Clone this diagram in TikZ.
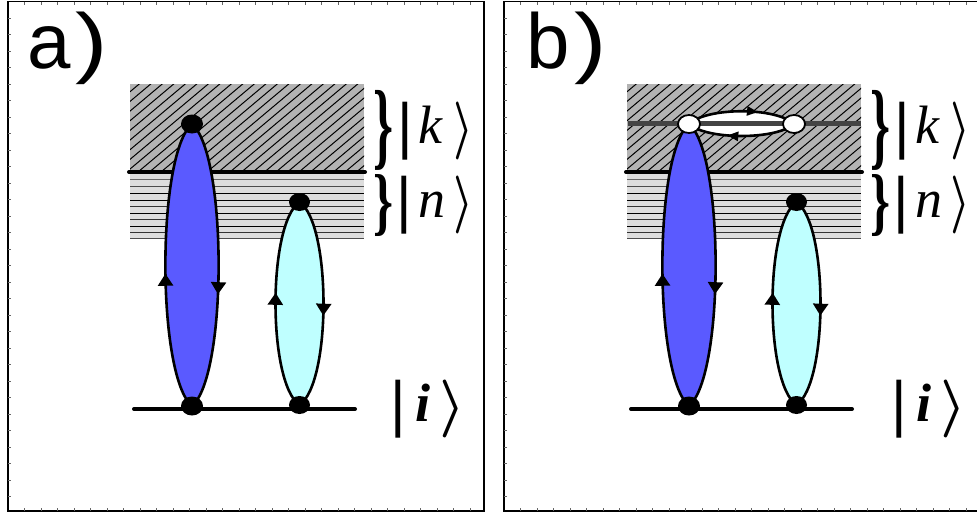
\documentclass[tikz,border=0pt]{standalone}
\usepackage{amsmath}
\usepackage{fontspec}
\setmainfont{Liberation Sans}
\newfontfamily\ketfont{Liberation Serif}
\newfontfamily\ketsym{DejaVu Sans}
\usepackage{tikz}
\usetikzlibrary{arrows.meta,decorations.markings,shapes.geometric}
\pgfdeclarelayer{top}
\pgfsetlayers{main,top}
\definecolor{lobeblue}{HTML}{5A5AFF}
\definecolor{lobecyan}{HTML}{BFFFFF}
\definecolor{hatchgray}{HTML}{B3B3B3}
\definecolor{bandgray}{HTML}{DDDDDD}
\definecolor{hotgray}{HTML}{444444}
\newcommand{\ketof}[4]{%
  \raisebox{-3pt}{\rlap{\ketsym\fontsize{58}{60}\selectfont |}}\hspace{#2}%
  \rlap{\ketfont\itshape\fontsize{54}{60}\selectfont #1}\hspace{#3}%
  \raisebox{-2.5pt}{\resizebox*{#4}{58pt}{\boldmath$\rangle$}}}

\begin{document}
\begin{tikzpicture}[
  x=1pt, y=-1pt,
  frame/.style={draw, line width=1.8pt},
  tick/.style={line width=0.6pt, draw=black!60},
  level/.style={line width=4pt, line cap=round},
  hotline/.style={line width=5pt, draw=hotgray},
  dot/.style={ellipse, fill=black, inner sep=0pt, minimum width=22pt, minimum height=19pt},
  smalldot/.style={dot, minimum width=21pt, minimum height=18pt},
  hole/.style={dot, draw=black, fill=white, line width=1.8pt, minimum width=22pt, minimum height=18pt},
  side/.style={line width=2.6pt},
  tipat/.style={postaction={decorate}, decoration={markings,
    mark=at position #1 with {\arrow{Triangle[length=12pt, width=15pt]}}}},
  smalltipat/.style={postaction={decorate}, decoration={markings,
    mark=at position #1 with {\arrow{Triangle[length=11pt, width=9pt]}}}},
  curly/.style={inner sep=0pt},
  ket/.style={anchor=base west, inner sep=0pt},
  panel/.style={font=\fontsize{78}{80}\selectfont, anchor=base west, inner sep=0pt}
]
  \useasboundingbox (0,0) rectangle (977,514);
  \foreach \pn/\px/\pl/\topstyle in {a/0/8/dot, b/497/504/hole} {
    \begin{scope}[xshift=\px pt]
      % bands
      \fill[hatchgray] (130,84) rectangle (364,172);
      \begin{scope}
        \clip (130,84) rectangle (364,172);
        \foreach \hx in {0,11.5,...,360}
          \draw[line width=1pt] (\hx,172) -- (\hx+119,72);
      \end{scope}
      \fill[bandgray] (130,172) rectangle (364,238);
      \foreach \hy/\hc in {179/black!60, 186/black!70, 193/black, 200/black, 206/black!80,
                           213/black, 219/black!80, 226/black, 232/black!80, 238/black!70}
        \draw[line width=0.9pt, draw=\hc] (130,\hy) -- (364,\hy);

      % levels
      \coordinate (\pn-kl) at (129,172);
      \coordinate (\pn-kr) at (365,172);
      \coordinate (\pn-il) at (134,409);
      \coordinate (\pn-ir) at (355,409);
      \draw[level] (\pn-kl) -- (\pn-kr);
      \draw[level] (\pn-il) -- (\pn-ir);

      % lobes
      \begin{pgfonlayer}{top}
        \node[\topstyle] (\pn-btop) at (192,124) {};
        \node[dot] (\pn-bbot) at (192,406) {};
        \node[smalldot] (\pn-ctop) at (299.5,202) {};
        \node[smalldot] (\pn-cbot) at (299.5,405) {};
      \end{pgfonlayer}
      \fill[lobeblue] (\pn-bbot.center) .. controls +(-35.5,-30) and +(-35.5,30) .. (\pn-btop.center)
        .. controls +(35.5,30) and +(35.5,-30) .. (\pn-bbot.center);
      \fill[lobecyan] (\pn-cbot.center) .. controls +(-32,-22) and +(-32,22) .. (\pn-ctop.center)
        .. controls +(32,22) and +(32,-22) .. (\pn-cbot.center);
      \draw[side, tipat=0.47] (\pn-bbot.center) .. controls +(-35.5,-30) and +(-35.5,30) .. (\pn-btop.center);
      \draw[side, tipat=0.6] (\pn-btop.center) .. controls +(35.5,30) and +(35.5,-30) .. (\pn-bbot.center);
      \draw[side, tipat=0.55] (\pn-cbot.center) .. controls +(-32,-22) and +(-32,22) .. (\pn-ctop.center);
      \draw[side, tipat=0.557] (\pn-ctop.center) .. controls +(32,22) and +(32,-22) .. (\pn-cbot.center);

      % labels
      \node[curly] (\pn-bracek) at (383,130) {\resizebox*{20pt}{80pt}{\ketfont\bfseries\}}};
      \node[curly] (\pn-bracen) at (383,206) {\resizebox*{20pt}{62pt}{\ketfont\bfseries\}}};
      \node[ket] (\pn-ketk) at (395,143) {\ketof{k}{23pt}{35pt}{20pt}};
      \node[ket] (\pn-ketn) at (394,217) {\ketof{n}{24pt}{35pt}{20pt}};
    \end{scope}
    \draw[frame] (\pl,1.5) rectangle (\pl+476,511);
    \foreach \tk in {1,...,30}
      \draw[tick] (\pl,\tk*16.5+1.5) -- +(3,0);
    \foreach \tk in {1,...,28} {
      \draw[tick] (\pl+\tk*16.5,1.5) -- +(0,3);
      \draw[tick] (\pl+\tk*16.5,511) -- +(0,-3);
    }
  }
  \node[panel] (a-lab) at (27,68) {a\kern5pt\scalebox{1.25}[1]{)}};
  \node[panel] (b-lab) at (526,68) {b\kern5pt\scalebox{1.25}[1]{)}};
  \node[ket] (a-keti) at (388,421) {\ketof{\bfseries i}{27pt}{24pt}{26pt}};
  \node[ket] (b-keti) at (889,421) {\ketof{\bfseries i}{27pt}{24pt}{26pt}};

  % virtual loop in panel b
  \begin{pgfonlayer}{top}
    \node[hole] (b-hr) at (794,124) {};
  \end{pgfonlayer}
  \coordinate (b-hl) at (628,123);
  \coordinate (b-hm) at (861,123);
  \fill[white] (b-btop.center) .. controls +(18,-17) and +(-18,-17) .. (b-hr.center)
    .. controls +(-18,16) and +(18,16) .. (b-btop.center);
  \draw[hotline] (b-hl) -- (b-hm);
  \draw[side, smalltipat=0.65] (b-btop.center) .. controls +(18,-17) and +(-18,-17) .. (b-hr.center);
  \draw[side, smalltipat=0.63] (b-hr.center) .. controls +(-18,16) and +(18,16) .. (b-btop.center);
\end{tikzpicture}
\end{document}
